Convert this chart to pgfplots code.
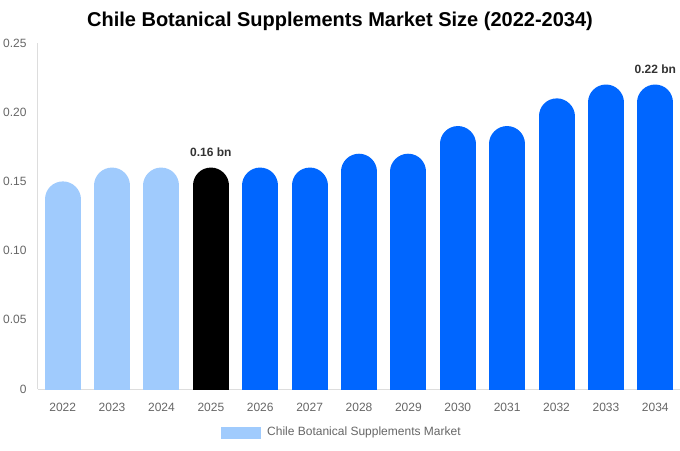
\documentclass[border=0pt]{standalone}
\usepackage{pgfplots}
\pgfplotsset{compat=1.18}
\usepackage{fontspec}
\setmainfont{Liberation Sans}

\definecolor{lightbar}{HTML}{A0CBFD}
\definecolor{bluebar}{HTML}{0066FF}
\definecolor{ticktext}{HTML}{666666}
\definecolor{labeltext}{HTML}{333333}
\definecolor{axisgray}{HTML}{DDDDDD}

\begin{document}
\begin{tikzpicture}
\useasboundingbox (0pt,0pt) rectangle (680pt,450pt);
\node[font=\fontsize{20}{24}\selectfont\bfseries] at (340pt,429pt)
  {Chile Botanical Supplements Market Size (2022-2034)};
\begin{axis}[
    at={(38pt,61pt)}, anchor=south west,
    scale only axis, width=642pt, height=346pt,
    xmin=-0.5, xmax=12.5, ymin=0, ymax=0.25,
    axis lines=left,
    axis line style={draw=axisgray, line width=1pt, -},
    major tick length=0pt,
    xtick={0,1,...,12},
    xticklabels={2022,2023,2024,2025,2026,2027,2028,2029,2030,2031,2032,2033,2034},
    ytick={0,0.05,0.10,0.15,0.20,0.25},
    yticklabels={0,0.05,0.10,0.15,0.20,0.25},
    tick label style={font=\fontsize{12}{14}\selectfont, text=ticktext},
    xticklabel style={yshift=-11pt},
    yticklabel style={xshift=-8pt},
    legend style={at={(0.4734,-0.124)}, anchor=center, draw=none,
      font=\fontsize{12}{14}\selectfont, text=ticktext,
      /tikz/every odd column/.style={column sep=4pt}},
    legend image code/.code={%
      \path[fill=lightbar, draw=none, line width=0pt]
        (0pt,11.3pt) rectangle (40pt,23.3pt);},
    comb/.style={ycomb, line width=36pt, line cap=round, yshift=-18pt,
      point meta=explicit symbolic, nodes near coords,
      nodes near coords style={font=\fontsize{12}{14}\selectfont\bfseries,
        text=labeltext, anchor=base, yshift=29pt}},
]
\addplot[comb, draw=lightbar] coordinates {
  (0,0.15) []
  (1,0.16) []
  (2,0.16) []
};
\addlegendentry{Chile Botanical Supplements Market}
\addplot[comb, draw=black, forget plot] coordinates {
  (3,0.16) [0.16 bn]
};
\addplot[comb, draw=bluebar, forget plot] coordinates {
  (4,0.16) []
  (5,0.16) []
  (6,0.17) []
  (7,0.17) []
  (8,0.19) []
  (9,0.19) []
  (10,0.21) []
  (11,0.22) []
  (12,0.22) [0.22 bn]
};
\end{axis}
\end{tikzpicture}
\end{document}
